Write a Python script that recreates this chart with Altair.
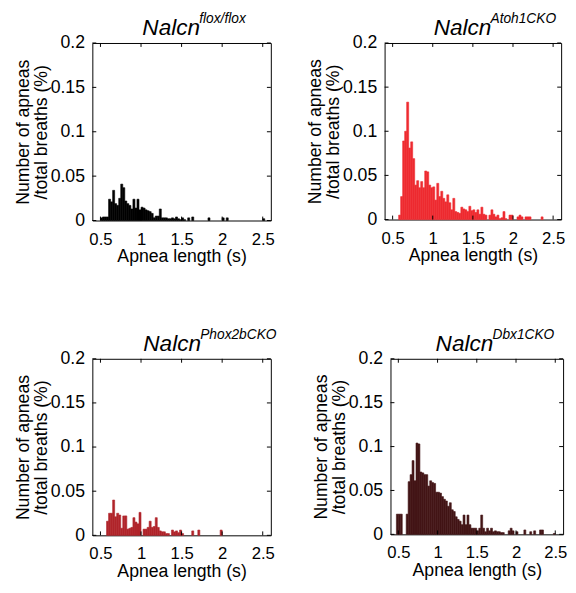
import altair as alt
import pandas as pd

# Bin starts (s), bin width 0.025 s
BIN_START = [0.450, 0.475, 0.500, 0.525, 0.550, 0.575, 0.600, 0.625, 0.650, 0.675,
             0.700, 0.725, 0.750, 0.775, 0.800, 0.825, 0.850, 0.875, 0.900, 0.925,
             0.950, 0.975, 1.000, 1.025, 1.050, 1.075, 1.100, 1.125, 1.150, 1.175,
             1.200, 1.225, 1.250, 1.275, 1.300, 1.325, 1.350, 1.375, 1.400, 1.425,
             1.450, 1.475, 1.500, 1.525, 1.550, 1.575, 1.600, 1.625, 1.650, 1.675,
             1.700, 1.725, 1.750, 1.775, 1.800, 1.825, 1.850, 1.875, 1.900, 1.925,
             1.950, 1.975, 2.000, 2.025, 2.050, 2.075, 2.100, 2.125, 2.150, 2.175,
             2.200, 2.225, 2.250, 2.275, 2.300, 2.325, 2.350, 2.375, 2.400, 2.425,
             2.450, 2.475, 2.500]
BIN_WIDTH = 0.025

FLOX = [0, 0,
        0.003, 0.004, 0.004, 0.004, 0.024, 0.021, 0.034, 0.019, 0.017, 0.025,
        0.041, 0.037, 0.022, 0.019, 0.017, 0.013, 0.024, 0.014, 0.024, 0.012,
        0.015, 0.014, 0.012, 0.011, 0.010, 0.008, 0.003, 0.005, 0.005, 0.013,
        0.003, 0.003, 0.003, 0.002, 0.002, 0.003, 0.002, 0.004, 0.002, 0.001,
        0.003, 0.001, 0, 0.003, 0, 0.004, 0, 0, 0, 0,
        0, 0, 0, 0.003, 0, 0, 0, 0, 0, 0,
        0.003, 0, 0.003, 0, 0, 0, 0, 0, 0, 0,
        0, 0, 0, 0, 0, 0, 0, 0, 0, 0,
        0.002]

ATOH1 = [0, 0,
         0, 0, 0, 0.005, 0.026, 0.089, 0.100, 0.133, 0.081, 0.088,
         0.069, 0.039, 0.044, 0.036, 0.043, 0.036, 0.055, 0.054, 0.039, 0.036,
         0.037, 0.022, 0.041, 0.026, 0.032, 0.024, 0.020, 0.028, 0.019, 0.011,
         0.024, 0.009, 0.008, 0.007, 0.014, 0.012, 0.011, 0.009, 0.015, 0.010,
         0.011, 0.008, 0.011, 0.006, 0.014, 0.006, 0.005, 0, 0.005, 0.011,
         0.006, 0.003, 0.005, 0.001, 0.002, 0.009, 0.001, 0, 0.005, 0.005,
         0, 0, 0.003, 0.005, 0.003, 0, 0.003, 0.003, 0.003, 0,
         0, 0, 0, 0, 0.003, 0, 0, 0, 0, 0,
         0]

PHOX2B = [0, 0,
          0, 0, 0, 0.016, 0.025, 0.025, 0.040, 0.021, 0.025, 0.023,
          0.008, 0.022, 0.022, 0.007, 0.008, 0.009, 0.020, 0.015, 0.013, 0.026,
          0, 0.007, 0.007, 0.009, 0.016, 0.009, 0.010, 0.020, 0.009, 0.005,
          0.004, 0.004, 0.002, 0.002, 0, 0.006, 0.004, 0.005, 0.003, 0.006,
          0.002, 0, 0, 0, 0, 0.005, 0, 0, 0.006, 0,
          0, 0, 0, 0, 0, 0, 0, 0, 0, 0.006,
          0, 0, 0, 0, 0, 0, 0, 0, 0, 0,
          0, 0, 0, 0, 0, 0, 0, 0, 0, 0,
          0]

DBX1 = [0, 0.023,
        0.023, 0.023, 0, 0, 0.023, 0.060, 0.068, 0.084, 0.061, 0.104,
        0.103, 0.071, 0.070, 0.068, 0.068, 0.055, 0.061, 0.059, 0.058, 0.048,
        0.048, 0.047, 0.043, 0.040, 0.038, 0.032, 0.036, 0.028, 0.026, 0.020,
        0.017, 0.015, 0.011, 0.022, 0.011, 0.022, 0.011, 0.007, 0.007, 0.007,
        0.004, 0.007, 0.022, 0.007, 0.003, 0.007, 0.004, 0.007, 0.003, 0.004,
        0.003, 0.003, 0.002, 0.002, 0, 0, 0.004, 0.007, 0.004, 0,
        0.003, 0, 0, 0, 0.005, 0, 0, 0.003, 0, 0.004,
        0, 0, 0.005, 0.005, 0, 0, 0, 0, 0, 0.001,
        0]

TITLE_MAIN = ["Nalcn", "Nalcn", "Nalcn", "Nalcn"]
TITLE_SUP = ["flox/flox", "Atoh1CKO", "Phox2bCKO", "Dbx1CKO"]
COLORS = ["#000000", "#EE2A30", "#B0242A", "#431516"]

X_TICKS = [0.5, 1, 1.5, 2, 2.5]
Y_TICKS = [0, 0.05, 0.1, 0.15, 0.2]
X_TITLE = "Apnea length (s)"
Y_TITLE = ["Number of apneas", "/total breaths (%)"]

FONT = "Liberation Sans"

X_AXIS = alt.Axis(values=X_TICKS, format="~g", title=X_TITLE, ticks=False,
                  domain=False, grid=False, labelFontSize=17, titleFontSize=18,
                  labelFont=FONT, titleFont=FONT, labelColor="black",
                  titleColor="black", titleFontWeight="normal",
                  labelPadding=11, titlePadding=1, labelFlush=False)
Y_AXIS = alt.Axis(values=Y_TICKS, format="~g", title=Y_TITLE, ticks=False,
                  domain=False, grid=False, labelFontSize=18, titleFontSize=18,
                  labelFont=FONT, titleFont=FONT, labelColor="black",
                  titleColor="black", titleFontWeight="normal",
                  labelPadding=8, titlePadding=0, titleLineHeight=18,
                  labelFlush=False)


def panel(values, color, main, sup, w, h, title_x):
    df = pd.DataFrame({"start": BIN_START, "h": values})
    df["end"] = df["start"] + BIN_WIDTH
    df["zero"] = 0.0
    df = df[df["h"] > 0]
    xs = alt.Scale(domain=[0.4, 2.6], nice=False, zero=False)
    ys = alt.Scale(domain=[0, 0.2], nice=False)
    bars = alt.Chart(df).mark_bar(color=color, stroke=color, strokeWidth=0.6).encode(
        x=alt.X("start:Q", scale=xs, axis=X_AXIS),
        x2="end:Q",
        y=alt.Y("h:Q", scale=ys, axis=Y_AXIS),
        y2="zero:Q",
    )
    xt = pd.DataFrame({"v": X_TICKS})
    yt = pd.DataFrame({"v": Y_TICKS})
    tl = 4
    xb = alt.Chart(xt).mark_rule(color="black", strokeWidth=1).encode(
        x=alt.X("v:Q", scale=xs, axis=X_AXIS), y=alt.value(h), y2=alt.value(h - tl))
    xtp = alt.Chart(xt).mark_rule(color="black", strokeWidth=1).encode(
        x=alt.X("v:Q", scale=xs, axis=X_AXIS), y=alt.value(0), y2=alt.value(tl))
    yl = alt.Chart(yt).mark_rule(color="black", strokeWidth=1).encode(
        y=alt.Y("v:Q", scale=ys, axis=Y_AXIS), x=alt.value(0), x2=alt.value(tl))
    yr = alt.Chart(yt).mark_rule(color="black", strokeWidth=1).encode(
        y=alt.Y("v:Q", scale=ys, axis=Y_AXIS), x=alt.value(w - tl), x2=alt.value(w))
    t1 = alt.Chart(pd.DataFrame({"t": [main]})).mark_text(
        font=FONT, fontSize=23, fontStyle="italic", align="left", baseline="alphabetic",
        color="black").encode(text="t:N", x=alt.value(title_x), y=alt.value(-8))
    t2 = alt.Chart(pd.DataFrame({"t": [sup]})).mark_text(
        font=FONT, fontSize=14, fontStyle="italic", align="left", baseline="alphabetic",
        color="black").encode(text="t:N", x=alt.value(title_x + 58), y=alt.value(-20))
    return alt.layer(bars, xb, xtp, yl, yr, t1, t2).properties(width=w, height=h)


p1 = panel(FLOX, COLORS[0], TITLE_MAIN[0], TITLE_SUP[0], 182, 181, 51)
p2 = panel(ATOH1, COLORS[1], TITLE_MAIN[1], TITLE_SUP[1], 180, 180, 50)
p3 = panel(PHOX2B, COLORS[2], TITLE_MAIN[2], TITLE_SUP[2], 182, 180, 52)
p4 = panel(DBX1, COLORS[3], TITLE_MAIN[3], TITLE_SUP[3], 176, 179, 46)

chart = alt.vconcat(
    alt.hconcat(p1, p2, spacing=31),
    alt.hconcat(p3, p4, spacing=35),
    spacing=62,
).properties(
    padding={"left": 6, "top": -2, "right": 0, "bottom": 0},
    background="white",
).configure_view(
    stroke="black", strokeWidth=1
)

chart.save("out.html", embed_options={"renderer": "svg", "actions": False})
